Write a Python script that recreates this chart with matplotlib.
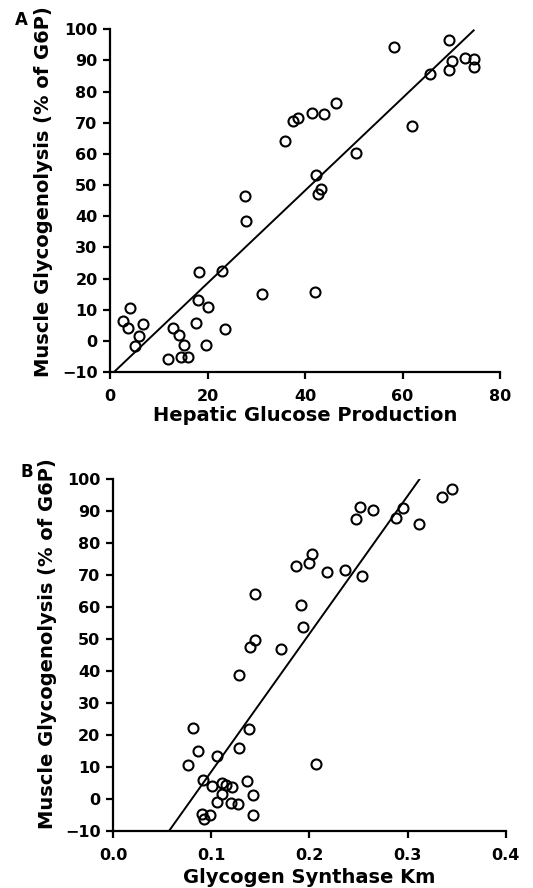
import numpy as np
import matplotlib
matplotlib.use("Agg")
import matplotlib.pyplot as plt

# Panel A: hepatic glucose production vs muscle glycogenolysis
hgp = [58.3, 69.6, 70.1, 69.6, 65.6, 72.8, 74.6, 74.6, 61.9, 50.4,
       46.3, 43.8, 41.5, 38.5, 37.6, 35.8, 42.2, 43.3, 42.7, 27.7,
       27.9, 18.2, 22.9, 31.2, 42.0, 18.0, 20.1, 4.2, 2.7, 3.7,
       6.8, 6.0, 5.2, 17.7, 13.0, 14.1, 15.1, 14.5, 16.0, 11.8,
       19.6, 23.5]
glyco_a = [94.3, 96.5, 89.7, 87.0, 85.7, 90.9, 90.5, 88.0, 69.1, 60.4,
           76.2, 72.7, 73.3, 71.5, 70.6, 64.1, 53.3, 48.9, 47.0, 46.5,
           38.6, 22.0, 22.3, 15.0, 15.7, 13.1, 11.0, 10.6, 6.4, 4.0,
           5.3, 1.5, -1.6, 5.7, 4.1, 1.8, -1.3, -5.1, -5.1, -5.9,
           -1.3, 3.9]
fit_a_x = [0.8, 74.6]
fit_a_slope, fit_a_icpt = 1.486, -11.2

# Panel B: glycogen synthase Km vs muscle glycogenolysis
gs_km = [0.345, 0.335, 0.312, 0.295, 0.288, 0.265, 0.252, 0.247, 0.254, 0.236,
         0.218, 0.203, 0.200, 0.186, 0.145, 0.191, 0.193, 0.145, 0.139, 0.171,
         0.128, 0.0815, 0.1385, 0.087, 0.128, 0.106, 0.076, 0.207, 0.092, 0.111,
         0.101, 0.115, 0.121, 0.136, 0.111, 0.143, 0.106, 0.1205, 0.127, 0.091,
         0.0985, 0.093, 0.143]
glyco_b = [96.9, 94.6, 86.0, 91.1, 87.9, 90.3, 91.5, 87.7, 69.9, 71.5,
           71.1, 76.8, 73.7, 72.9, 64.2, 60.7, 53.8, 49.6, 47.7, 46.9,
           38.7, 22.2, 21.8, 15.1, 16.0, 13.4, 10.5, 11.1, 6.1, 5.0,
           4.0, 4.3, 3.8, 5.6, 1.7, 1.4, -0.9, -1.3, -1.7, -4.8,
           -5.0, -6.1, -5.1]
fit_b_x = [0.057, 0.312]
fit_b_slope, fit_b_icpt = 431.4, -34.6

yticks = [-10, 0, 10, 20, 30, 40, 50, 60, 70, 80, 90, 100]
ylabel = "Muscle Glycogenolysis (% of G6P)"

plt.rcParams["font.family"] = ["DejaVu Sans"]
plt.rcParams["font.weight"] = "bold"

fig = plt.figure(figsize=(5.33, 8.88), dpi=100)
ax1 = fig.add_axes([0.2064, 0.581, 0.7317, 0.386])
ax2 = fig.add_axes([0.212, 0.0642, 0.737, 0.396])


def style_axes(ax, xlim, xticks, xfmt, xlabel):
    ax.set_xlim(*xlim)
    ax.set_ylim(-10, 100)
    ax.set_xticks(xticks)
    ax.set_xticklabels([xfmt.format(t) for t in xticks])
    ax.set_yticks(yticks)
    for side in ("top", "right"):
        ax.spines[side].set_visible(False)
    for side in ("left", "bottom"):
        ax.spines[side].set_linewidth(1.6)
    ax.tick_params(direction="out", length=5, width=1.6, labelsize=11.5)
    ax.tick_params(axis="x", pad=7)
    ax.tick_params(axis="y", pad=4)
    ax.set_xlabel(xlabel, fontsize=14, fontweight="bold")
    ax.set_ylabel(ylabel, fontsize=14, fontweight="bold")


ax1.plot(hgp, glyco_a, "o", ms=7.2, mfc="none", mec="black", mew=1.5, clip_on=False)
xa = np.array(fit_a_x)
ax1.plot(xa, fit_a_slope * xa + fit_a_icpt, color="black", lw=1.4)
style_axes(ax1, (0, 80), [0, 20, 40, 60, 80], "{:g}", "Hepatic Glucose Production")
ax1.xaxis.set_label_coords(0.5, -0.10)
ax1.yaxis.set_label_coords(-0.146, 0.525)
fig.text(15 / 533, 1 - 20 / 888, "A", fontsize=12, fontweight="bold", va="center")

ax2.plot(gs_km, glyco_b, "o", ms=7.2, mfc="none", mec="black", mew=1.5, clip_on=False)
xb = np.array(fit_b_x)
ax2.plot(xb, fit_b_slope * xb + fit_b_icpt, color="black", lw=1.4)
style_axes(ax2, (0, 0.4), [0.0, 0.1, 0.2, 0.3, 0.4], "{:.1f}", "Glycogen Synthase Km")
ax2.xaxis.set_label_coords(0.5, -0.105)
ax2.yaxis.set_label_coords(-0.142, 0.534)
fig.text(20 / 533, 1 - 472 / 888, "B", fontsize=12, fontweight="bold", va="center")

fig.savefig("out.png", dpi=100)
